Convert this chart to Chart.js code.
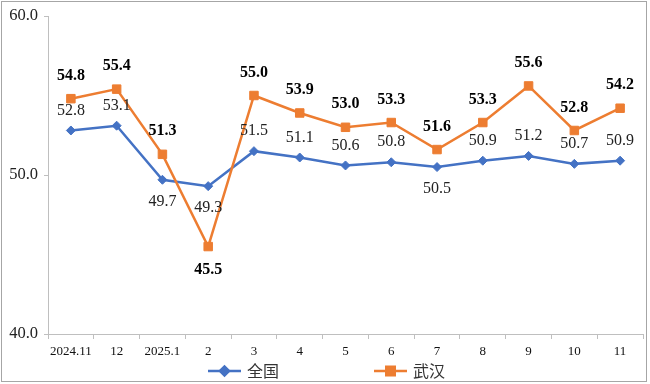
<!DOCTYPE html>
<html><head><meta charset="utf-8">
<script src="https://cdn.jsdelivr.net/npm/chart.js@4"></script>
<style>html,body{margin:0;padding:0;background:#fff}#wrap{width:650px;height:384px;position:relative}</style>
</head><body><div id="wrap"><canvas id="c" width="650" height="384"></canvas></div>
<script>
const categories = ['2024.11','12','2025.1','2','3','4','5','6','7','8','9','10','11'];
const nationalValues = [52.8,53.1,49.7,49.3,51.5,51.1,50.6,50.8,50.5,50.9,51.2,50.7,50.9];
const wuhanValues = [54.8,55.4,51.3,45.5,55.0,53.9,53.0,53.3,51.6,53.3,55.6,52.8,54.2];
const yTicks = [40,50,60];
const seriesNames = ['全国','武汉'];
const nationalLabelSide = ['up','up','down','down','up','up','up','up','down','up','up','up','up'];
const wuhanLabelSide = ['up','up','up','down','up','up','up','up','up','up','up','up','up'];

const SERIF = "'Liberation Serif','Times New Roman',serif";
const BLUE = '#4472C4', ORANGE = '#ED7D31', AXIS = '#bfbfbf';
Chart.defaults.font.family = SERIF;

const labelPlugin = {
  id: 'labels',
  afterDatasetsDraw(chart) {
    const ctx = chart.ctx;
    const cfg = [
      {sides: nationalLabelSide, font: '16px ' + SERIF, color: '#222', up: -20, down: 22},
      {sides: wuhanLabelSide, font: 'bold 16px ' + SERIF, color: '#000', up: -23, down: 23}
    ];
    ctx.save();
    ctx.textAlign = 'center';
    ctx.textBaseline = 'middle';
    chart.data.datasets.forEach((ds, i) => {
      const meta = chart.getDatasetMeta(i);
      const c = cfg[i];
      ctx.font = c.font;
      ctx.fillStyle = c.color;
      meta.data.forEach((el, j) => {
        const off = c.sides[j] === 'down' ? c.down : c.up;
        ctx.fillText(ds.data[j].toFixed(1), el.x, el.y + off);
      });
    });
    ctx.restore();
  }
};

const frameLegendPlugin = {
  id: 'frameLegend',
  afterDraw(chart) {
    const ctx = chart.ctx;
    ctx.save();
    ctx.strokeStyle = '#a6a6a6';
    ctx.lineWidth = 1;
    ctx.strokeRect(1.5, 1.5, 645, 380);
    const items = [
      {x: 208, tx: 247, ds: chart.data.datasets[0]},
      {x: 374, tx: 413, ds: chart.data.datasets[1]}
    ];
    const y = 371;
    items.forEach(it => {
      ctx.strokeStyle = it.ds.borderColor;
      ctx.lineWidth = 2.5;
      ctx.beginPath();
      ctx.moveTo(it.x, y);
      ctx.lineTo(it.x + 33, y);
      ctx.stroke();
      Chart.helpers.drawPoint(ctx, {
        pointStyle: it.ds.pointStyle, radius: it.ds.pointRadius, borderWidth: 1,
        rotation: 0
      }, it.x + 16.5, y);
      ctx.fillStyle = it.ds.backgroundColor;
      ctx.fill();
      ctx.fillStyle = '#333';
      ctx.font = "16px 'Noto Sans CJK SC', sans-serif";
      ctx.textAlign = 'left';
      ctx.textBaseline = 'middle';
      ctx.fillText(it.ds.label, it.tx, y);
    });
    ctx.restore();
  }
};

new Chart(document.getElementById('c'), {
  type: 'line',
  data: {
    labels: categories,
    datasets: [
      {label: seriesNames[0], data: nationalValues, borderColor: BLUE, backgroundColor: BLUE,
       borderWidth: 2.5, pointStyle: 'rectRot', pointRadius: 4.5, pointBorderWidth: 1,
       pointBackgroundColor: BLUE, pointBorderColor: BLUE, tension: 0, order: 1},
      {label: seriesNames[1], data: wuhanValues, borderColor: ORANGE, backgroundColor: ORANGE,
       borderWidth: 2.5, pointStyle: 'rect', pointRadius: 6, pointBorderWidth: 1,
       pointBackgroundColor: ORANGE, pointBorderColor: ORANGE, tension: 0, order: 0}
    ]
  },
  options: {
    responsive: false, animation: false, devicePixelRatio: 1,
    layout: {padding: {top: 16, right: 7, left: 0, bottom: 0}},
    plugins: {legend: {display: false}, tooltip: {enabled: false}},
    scales: {
      x: {
        type: 'category', offset: true,
        grid: {display: true, drawOnChartArea: false, drawTicks: true, tickLength: 5, color: AXIS, offset: true},
        border: {display: true, color: AXIS, width: 1},
        ticks: {autoSkip: false, maxRotation: 0, color: '#111', font: {size: 13, family: SERIF}, padding: 5},
        afterFit(s) { s.height = 50; }
      },
      y: {
        min: 40, max: 60,
        afterBuildTicks(s) { s.ticks = yTicks.map(v => ({value: v})); },
        grid: {display: true, drawOnChartArea: false, drawTicks: true, tickLength: 4, color: AXIS},
        border: {display: true, color: AXIS, width: 1},
        ticks: {color: '#222', font: {size: 16.5, family: SERIF}, padding: 6,
                callback: v => Number(v).toFixed(1)},
        afterFit(s) { s.width = 48; }
      }
    }
  },
  plugins: [labelPlugin, frameLegendPlugin]
});
</script></body></html>
